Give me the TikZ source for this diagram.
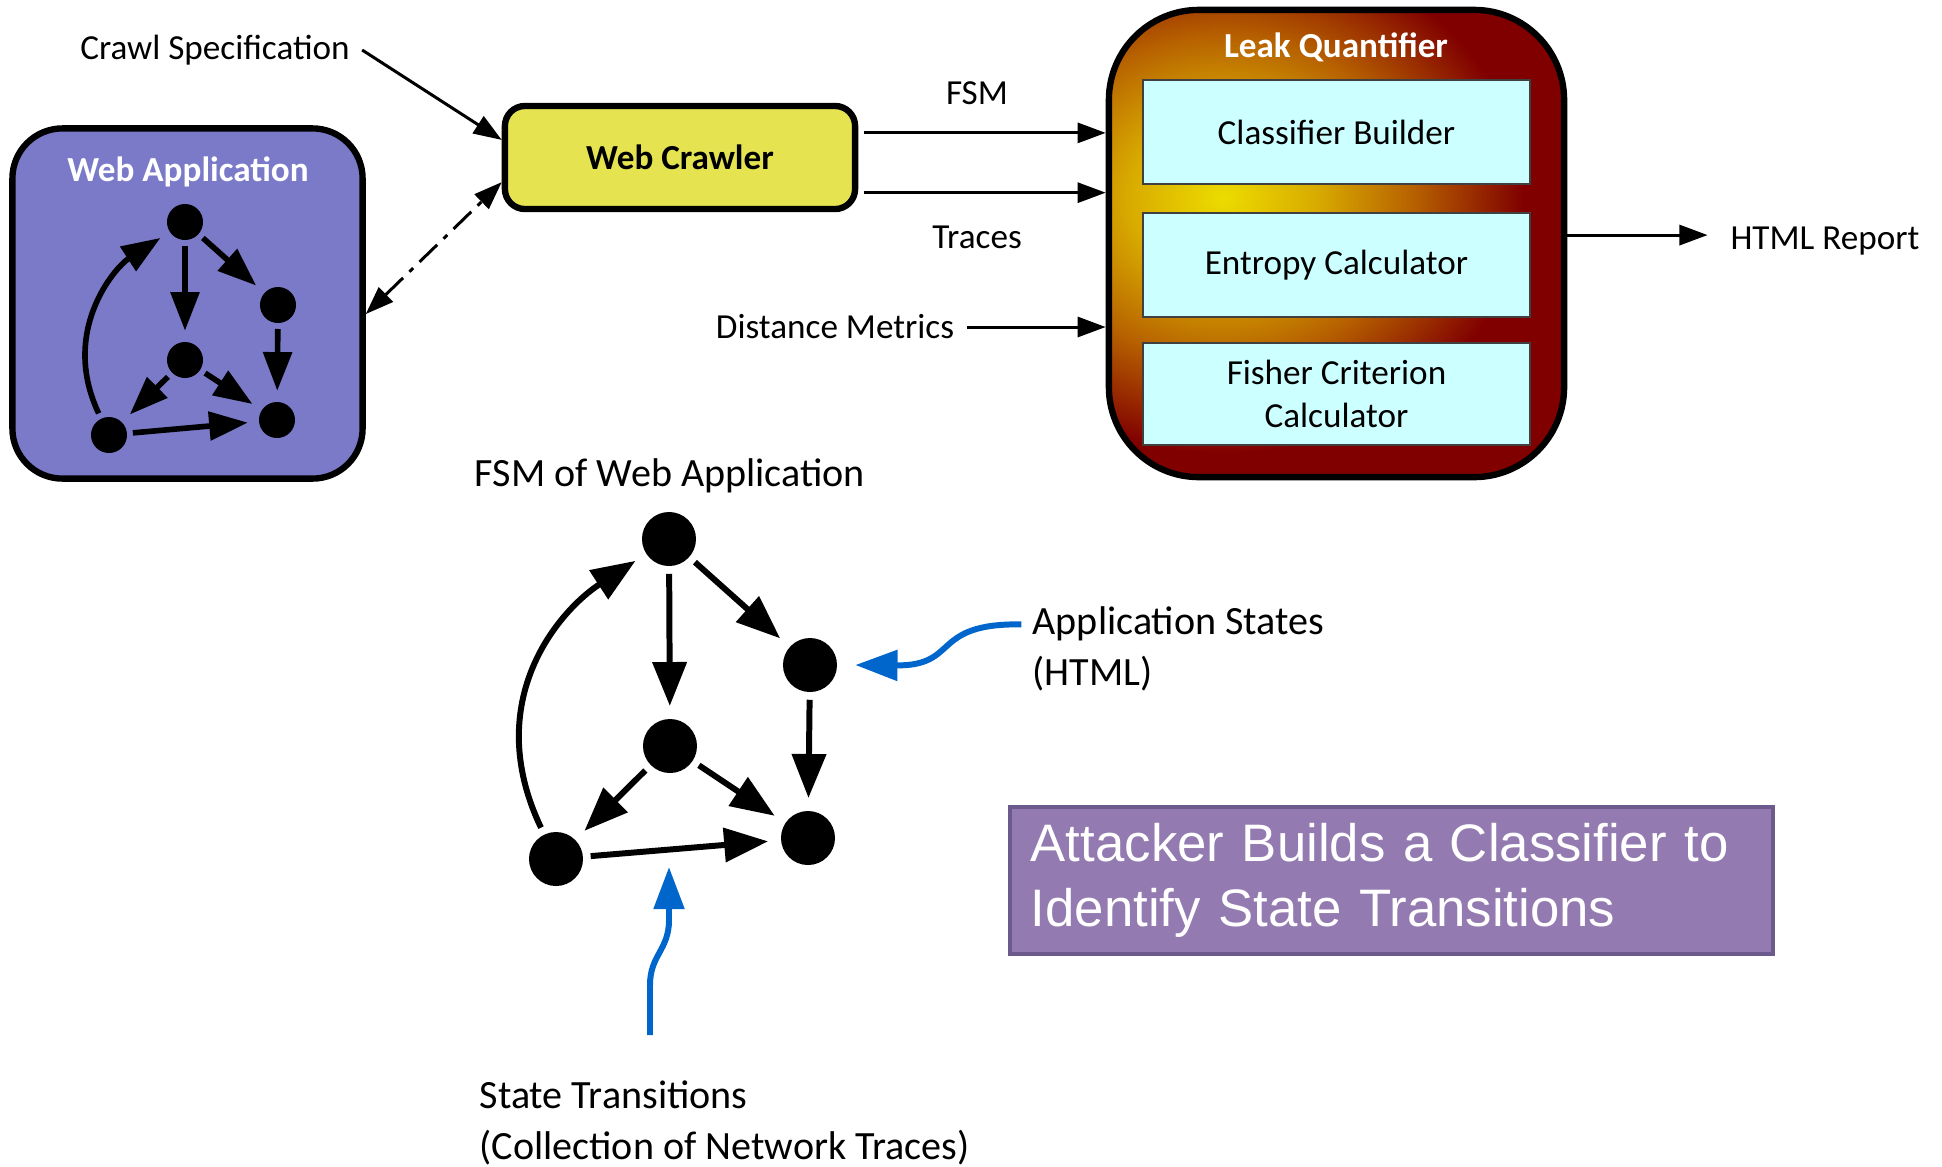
\documentclass[tikz,border=0pt]{standalone}
\usepackage{fontspec}
\setmainfont{Carlito}
\newfontfamily\arialfont{Liberation Sans}
\usetikzlibrary{arrows.meta}

\definecolor{webblue}{RGB}{122,122,200}
\definecolor{crawlyellow}{RGB}{229,228,80}
\definecolor{lqyellow}{RGB}{236,220,0}
\definecolor{lqgold}{RGB}{216,170,0}
\definecolor{lqorange}{RGB}{182,96,0}
\definecolor{lqred}{RGB}{128,0,0}
\definecolor{boxcyan}{RGB}{204,255,255}
\definecolor{pointblue}{RGB}{0,102,204}
\definecolor{attfill}{RGB}{147,122,176}
\definecolor{attedge}{RGB}{108,90,140}

\pgfdeclareradialshading{leakglow}{\pgfpoint{0bp}{0bp}}{color(0bp)=(lqyellow); color(7bp)=(lqgold); color(14bp)=(lqorange); color(22bp)=(lqred); color(50bp)=(lqred)}

\tikzset{
	bigtip/.tip={Triangle[length=8pt,width=5.7pt]},
	lbl/.style={font=\fontsize{10}{12}\selectfont},
	biglbl/.style={font=\fontsize{11.4}{14.5}\selectfont, inner sep=0pt, align=left},
	boldlbl/.style={font=\bfseries\fontsize{10}{12}\selectfont},
	conn/.style={line width=0.85pt, -bigtip},
	webnode/.style={circle, fill=black, minimum size=0.36cm, inner sep=0pt},
	fsmnode/.style={circle, fill=black, minimum size=0.54cm, inner sep=0pt},
	webedge/.style={line width=1.6pt, -{Triangle[length=11pt,width=8pt]}, shorten <=1.5pt, shorten >=3pt},
	fsmedge/.style={line width=1.7pt, -{Triangle[length=12.5pt,width=9.5pt]}, shorten <=2pt, shorten >=3.5pt},
	module/.style={draw=black!75, line width=0.6pt, fill=boxcyan, minimum width=3.87cm, minimum height=1.04cm, lbl, align=center},
	pointer/.style={draw=pointblue, line width=1.7pt, -{Triangle[length=12pt,width=8.5pt]}},
}

\begin{document}
\begin{tikzpicture}[x=0.01cm, y=0.01cm]
	\useasboundingbox (0,0) rectangle (1942,-1166);

	% web application with its small state graph
	\node[draw, line width=1.8pt, rounded corners=0.5cm, fill=webblue, minimum width=3.5cm, minimum height=3.5cm] (webapp) at (187.5,-303.5) {};
	\node[boldlbl, text=white] (webtitle) at (188,-172) {Web Application};
	\node[webnode] (s1) at (185,-222) {};
	\node[webnode] (s2) at (278,-305) {};
	\node[webnode] (s3) at (185,-360) {};
	\node[webnode] (s4) at (109,-435) {};
	\node[webnode] (s5) at (277,-420) {};
	\draw[webedge] (s1) -- (s3);
	\draw[webedge] (s1) -- (s2);
	\draw[webedge] (s2) -- (s5);
	\draw[webedge] (s3) -- (s4);
	\draw[webedge] (s3) -- (s5);
	\draw[webedge] (s4) -- (s5);
	\draw[webedge] (s4) .. controls (60,-332) and (114,-268) .. (s1);

	% crawler
	\node[draw, line width=1.8pt, rounded corners=0.2cm, fill=crawlyellow, minimum width=3.5cm, minimum height=1.03cm, boldlbl] (crawler) at (680,-157.5) {Web Crawler};

	% leak quantifier
	\node[draw, line width=1.8pt, rounded corners=0.9cm, fill=lqred, minimum width=4.55cm, minimum height=4.67cm,
		path picture={\shade[shading=leakglow] ([xshift=-1.15cm,yshift=0.46cm]path picture bounding box.center) ellipse (3.4cm and 2.9cm);}] (quant) at (1336.5,-243.5) {};
	\node[boldlbl, text=white] (lqtitle) at (1336,-47) {Leak Quantifier};
	\node[module] (classbuilder) at (1336.5,-132) {Classifier Builder};
	\node[module] (entropycalc) at (1336.5,-265) {Entropy Calculator};
	\node[module, minimum height=1.02cm] (fishercalc) at (1336.5,-394) {Fisher Criterion\\Calculator};

	% inputs and outputs
	\node[lbl] (crawlspec) at (215,-50) {Crawl Specification};
	\node[lbl] (fsmlabel) at (977,-93) {FSM};
	\node[lbl] (traceslabel) at (977,-237) {Traces};
	\node[lbl] (distmetrics) at (835,-327) {Distance Metrics};
	\node[lbl] (htmlreport) at (1825,-241) {HTML Report};
	\coordinate (fsmout) at ([yshift=7pt]crawler.east);
	\coordinate (tracesout) at ([yshift=-10pt]crawler.east);
	\coordinate (reportout) at ([yshift=2.4pt]quant.east);

	\draw[conn] (crawlspec.east) -- ([yshift=5pt]crawler.west);
	\draw[line width=0.85pt, bigtip-bigtip, dash pattern=on 7pt off 2.5pt on 1.5pt off 2.5pt] ([yshift=-3pt]webapp.east) -- ([yshift=-7pt]crawler.west);
	\draw[conn, shorten <=1.5pt] (fsmout) -- (fsmout -| quant.west);
	\draw[conn, shorten <=1.5pt] (tracesout) -- (tracesout -| quant.west);
	\draw[conn] (distmetrics.east) -- (distmetrics.east -| quant.west);
	\draw[conn, shorten >=3pt] (reportout) -- (reportout -| htmlreport.west);

	% FSM of the web application
	\node[font=\fontsize{11.4}{14.5}\selectfont] (fsmtitle) at (670,-476) {FSM of Web Application};
	\node[fsmnode] (b1) at (669,-539) {};
	\node[fsmnode] (b2) at (810,-665) {};
	\node[fsmnode] (b3) at (670,-746) {};
	\node[fsmnode] (b4) at (556,-859) {};
	\node[fsmnode] (b5) at (808,-838) {};
	\draw[fsmedge] (b1) -- (b3);
	\draw[fsmedge] (b1) -- (b2);
	\draw[fsmedge] (b2) -- (b5);
	\draw[fsmedge] (b3) -- (b4);
	\draw[fsmedge] (b3) -- (b5);
	\draw[fsmedge] (b4) -- (b5);
	\draw[fsmedge] (b4) .. controls (480,-700) and (560,-610) .. (b1);

	% pointers
	\node[biglbl, anchor=west] (appstates) at (1032,-649) {Application States\\(HTML)};
	\draw[pointer] ([xshift=-3pt,yshift=7pt]appstates.west) .. controls (930,-623) and (960,-666) .. ([xshift=5pt]b2.east);
	\node[biglbl, anchor=north west] (sttrans) at (479,-1080) {State Transitions\\(Collection of Network Traces)};
	\coordinate (transtip) at (669,-867);
	\draw[pointer] ([shift={(171,45)}]sttrans.north west) -- (650,-985) .. controls (650,-955) and (669,-950) .. (669,-920) -- (transtip);

	\node[draw=attedge, line width=1pt, fill=attfill, text=white, anchor=north west, minimum width=7.63cm, minimum height=1.47cm, text width=7.21cm, inner xsep=0.21cm, align=left, font=\arialfont\fontsize{15}{18.3}\selectfont] (attacker) at (1008,-805) {Attacker Builds a Classifier to\\Identify State Transitions};
\end{tikzpicture}
\end{document}
